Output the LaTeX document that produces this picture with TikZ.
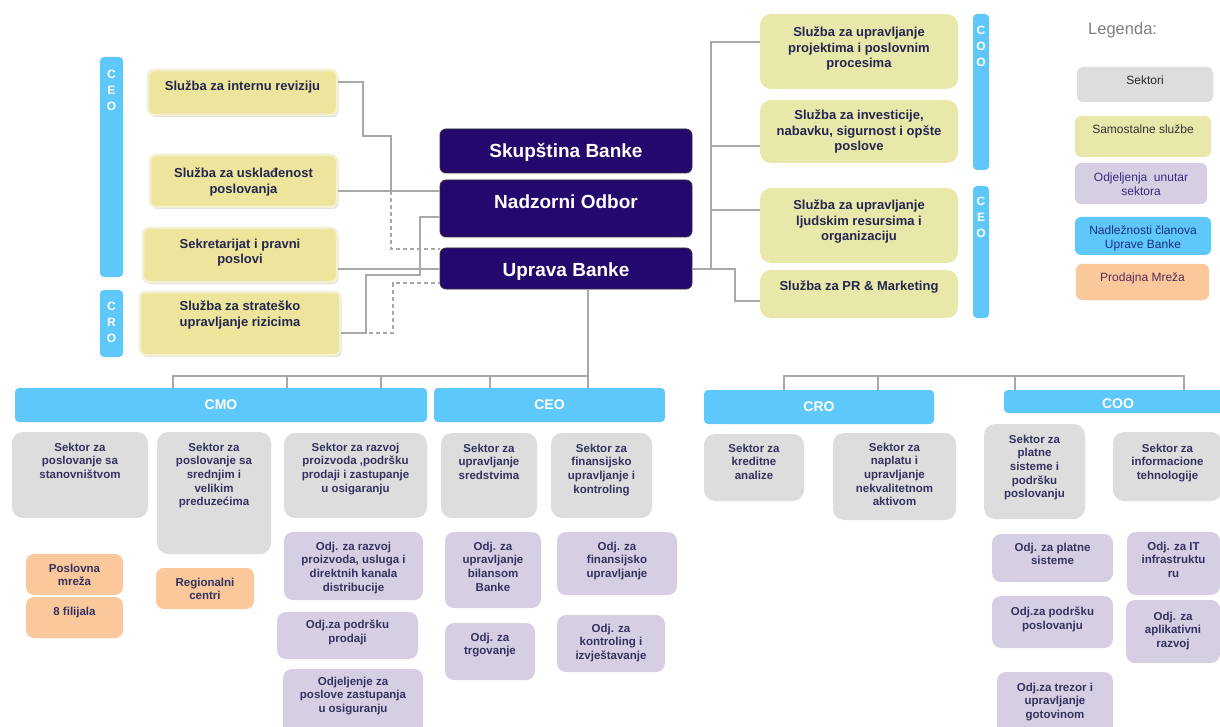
\documentclass[tikz,border=0pt]{standalone}
\usepackage{fontspec}
\setmainfont{Liberation Sans}
\usetikzlibrary{fit,shadows}
\definecolor{blu}{HTML}{5EC8FA}
\definecolor{yelL}{HTML}{EDE59C}
\definecolor{yelRim}{HTML}{F4F1D3}
\definecolor{yelR}{HTML}{E8E8AA}
\definecolor{gry}{HTML}{DDDDDD}
\definecolor{prp}{HTML}{D6CFE4}
\definecolor{org}{HTML}{FAC89B}
\definecolor{dkb}{HTML}{24086E}
\definecolor{lnc}{HTML}{A8A8A8}
\definecolor{tnavy}{HTML}{25254F}
\definecolor{tslate}{HTML}{34335F}
\definecolor{legg}{HTML}{808080}
\definecolor{tpurp}{HTML}{3A2A7A}
\definecolor{tblue}{HTML}{1E2E80}
\definecolor{tplum}{HTML}{5A2A5A}
\newcommand\obox[9]{%
  \node[fit={(#3,#4)(#5,#6)}, inner sep=0pt, #1] (#2) {};
  \node[#7, anchor=north] (#2t) at ([yshift=-#8pt]#2.north) {#9};}
\begin{document}
\begin{tikzpicture}[x=1pt,y=-1pt,
  conn/.style={draw=lnc, line width=1.1pt},
  dconn/.style={conn, dash pattern=on 4pt off 3pt},
  bar/.style={fill=blu, rounded corners=4pt},
  yl/.style={fill=yelL, draw=yelRim, line width=2.5pt, rounded corners=6pt,
     drop shadow={opacity=0.25, shadow xshift=1.5pt, shadow yshift=-2pt}},
  yr/.style={fill=yelR, rounded corners=11pt},
  dk/.style={fill=dkb, draw=black!80, line width=0.8pt, rounded corners=6pt},
  gr/.style={fill=gry, rounded corners=11pt},
  pu/.style={fill=prp, rounded corners=9pt},
  or/.style={fill=org, rounded corners=8pt},
  lgb/.style={rounded corners=6pt},
  t11/.style={font=\bfseries\fontsize{11.5}{13.6}\selectfont, text=tslate, align=center, inner sep=0pt},
  t13/.style={font=\bfseries\fontsize{13}{15.5}\selectfont, text=tnavy, align=center, inner sep=0pt},
  vbt/.style={font=\bfseries\fontsize{12}{16}\selectfont, text=white, align=center, inner sep=0pt},
  bart/.style={font=\bfseries\fontsize{14}{16}\selectfont, text=white, inner sep=0pt},
  dkt/.style={font=\bfseries\fontsize{19}{22}\selectfont, text=white, inner sep=0pt},
  lgt/.style={font=\fontsize{12}{14}\selectfont, align=center, inner sep=0pt},
]
\useasboundingbox (0,0) rectangle (1220,727);
\clip (0,0) rectangle (1220,727);
\fill[white] (0,0) rectangle (1220,727);

% ---- left side
\obox{bar}{lceo}{100}{57}{123}{277}{vbt}{13}{C\\E\\O}
\obox{bar}{lcro}{100}{290}{123}{357}{vbt}{12}{C\\R\\O}
\obox{yl}{ir}{148}{70}{337}{115}{t13}{12}{Služba za internu reviziju}
\obox{yl}{usk}{150}{155}{337}{207}{t13}{14}{Služba za usklađenost\\poslovanja}
\obox{yl}{sek}{143}{228}{337}{282}{t13}{12}{Sekretarijat i pravni\\poslovi}
\obox{yl}{rz}{140}{292}{340}{355}{t13}{10}{Služba za strateško\\upravljanje rizicima}

% ---- governing bodies
\obox{dk}{sk}{440}{129}{692}{173}{dkt}{15}{Skupština Banke}
\obox{dk}{nad}{440}{180}{692}{237}{dkt}{15}{Nadzorni Odbor}
\obox{dk}{upr}{440}{248}{692}{289}{dkt}{15}{Uprava Banke}

% ---- right side
\obox{yr}{p1}{760}{14}{958}{89}{t13}{13}{Služba za upravljanje\\projektima i poslovnim\\procesima}
\obox{yr}{p2}{760}{100}{958}{163}{t13}{10}{Služba za investicije,\\nabavku, sigurnost i opšte\\poslove}
\obox{yr}{p3}{760}{188}{958}{263}{t13}{12}{Služba za upravljanje\\ljudskim resursima i\\organizaciju}
\obox{yr}{pr}{760}{270}{958}{318}{t13}{11}{Služba za PR \& Marketing}
\obox{bar}{rcoo}{973}{14}{989}{170}{vbt}{12}{C\\O\\O}
\obox{bar}{rceo}{973}{186}{989}{318}{vbt}{11}{C\\E\\O}

% ---- legend
\node[font=\fontsize{16.5}{18}\selectfont, text=legg, anchor=west, inner sep=0pt] (leg) at (1088,30) {Legenda:};
\obox{lgb,fill=gry}{lg1}{1077}{67}{1213}{102}{lgt,text=black!85}{9}{Sektori}
\obox{lgb,fill=yelR}{lg2}{1075}{116}{1211}{157}{lgt,text=black!80}{9}{Samostalne službe}
\obox{lgb,fill=prp}{lg3}{1075}{163}{1207}{204}{lgt,text=tpurp}{10}{Odjeljenja\ \ unutar\\sektora}
\obox{lgb,fill=blu}{lg4}{1075}{217}{1211}{255}{lgt,text=tblue}{9}{Nadležnosti članova\\Uprave Banke}
\obox{lgb,fill=org}{lg5}{1076}{264}{1209}{300}{lgt,text=tplum}{9}{Prodajna Mreža}

% ---- bottom bars
\obox{bar}{cmob}{15}{388}{427}{422}{bart}{12}{CMO}
\obox{bar}{ceob}{434}{388}{665}{422}{bart}{12}{CEO}
\obox{bar}{crob}{704}{390}{934}{424}{bart}{12}{CRO}
\obox{bar}{coob}{1004}{390}{1232}{413}{bart}{9}{COO}

% ---- sectors
\obox{gr}{s1}{12}{432}{148}{518}{t11}{11}{Sektor za\\poslovanje sa\\stanovništvom}
\obox{gr}{s2}{157}{432}{271}{554}{t11}{11}{Sektor za\\poslovanje sa\\srednjim i\\velikim\\preduzećima}
\obox{gr}{s3}{284}{433}{427}{518}{t11}{10}{Sektor za razvoj\\proizvoda ,podršku\\prodaji i zastupanje\\u osigaranju}
\obox{gr}{s4}{441}{433}{537}{518}{t11}{11}{Sektor za\\upravljanje\\sredstvima}
\obox{gr}{s5}{551}{433}{652}{518}{t11}{11}{Sektor za\\finansijsko\\upravljanje i\\kontroling}
\obox{gr}{s6}{704}{434}{804}{501}{t11}{10}{Sektor za\\kreditne\\analize}
\obox{gr}{s7}{833}{433}{956}{520}{t11}{10}{Sektor za\\naplatu i\\upravljanje\\nekvalitetnom\\aktivom}
\obox{gr}{s8}{984}{424}{1085}{519}{t11}{11}{Sektor za\\platne\\sisteme i\\podršku\\poslovanju}
\obox{gr}{s9}{1113}{432}{1222}{501}{t11}{12}{Sektor za\\informacione\\tehnologije}

% ---- sales network
\obox{or}{o1}{26}{554}{123}{595}{t11}{10}{Poslovna\\mreža}
\obox{or}{o2}{26}{597}{123}{638}{t11}{10}{8 filijala}
\obox{or}{o3}{156}{568}{254}{609}{t11}{10}{Regionalni\\centri}

% ---- departments
\obox{pu}{d1}{284}{532}{423}{600}{t11}{10}{Odj. za razvoj\\proizvoda, usluga i\\direktnih kanala\\distribucije}
\obox{pu}{d2}{277}{612}{418}{659}{t11}{8}{Odj.za podršku\\prodaji}
\obox{pu}{d3}{283}{669}{423}{735}{t11}{8}{Odjeljenje za\\poslove zastupanja\\u osiguranju}
\obox{pu}{d4}{445}{532}{541}{608}{t11}{10}{Odj. za\\upravljanje\\bilansom\\Banke}
\obox{pu}{d5}{445}{623}{535}{680}{t11}{10}{Odj. za\\trgovanje}
\obox{pu}{d6}{557}{532}{677}{595}{t11}{10}{Odj. za\\finansijsko\\upravljanje}
\obox{pu}{d7}{557}{615}{665}{672}{t11}{9}{Odj. za\\kontroling i\\izvještavanje}
\obox{pu}{d8}{992}{534}{1113}{582}{t11}{9}{Odj. za platne\\sisteme}
\obox{pu}{d9}{1127}{532}{1220}{595}{t11}{10}{Odj. za IT\\infrastruktu\\ru}
\obox{pu}{d10}{992}{596}{1113}{648}{t11}{11}{Odj.za podršku\\poslovanju}
\obox{pu}{d11}{1126}{600}{1220}{663}{t11}{12}{Odj. za\\aplikativni\\razvoj}
\obox{pu}{d12}{997}{672}{1113}{735}{t11}{11}{Odj.za trezor i\\upravljanje\\gotovinom}

% ---- connectors, left
\draw[conn] (ir.east |- 0,82) -| (363,136) -| (391,191);
\draw[conn] (usk.east |- 0,191) -- (nad.west |- 0,191);
\draw[dconn] (391,191) |- (upr.west |- 0,249);
\draw[conn] (sek.east |- 0,269) -- (upr.west |- 0,269);
\draw[conn] (rz.east |- 0,333) -| (366,275) -| (420,217) -- (nad.west |- 0,217);
\draw[dconn] (rz.east |- 0,333) -| (393,283) -- (upr.west |- 0,283);

% ---- connectors, right
\draw[conn] (upr.east |- 0,269) -| (735,301) -- (pr.west |- 0,301);
\draw[conn] (p1.west |- 0,42) -| (711,269);
\draw[conn] (p2.west |- 0,146) -- (711,146);
\draw[conn] (p3.west |- 0,210) -- (711,210);

% ---- connectors, bottom
\draw[conn] (upr.south -| 588,0) -- (ceob.north -| 588,0);
\draw[conn] (cmob.north -| 173,0) |- (588,376);
\draw[conn] (cmob.north -| 287,0) -- (287,376);
\draw[conn] (cmob.north -| 381,0) -- (381,376);
\draw[conn] (ceob.north -| 490,0) -- (490,376);
\draw[conn] (crob.north -| 784,0) -- (784,376) -- (1184,376) -- (coob.north -| 1184,0);
\draw[conn] (crob.north -| 878,0) -- (878,376);
\draw[conn] (coob.north -| 1015,0) -- (1015,376);
\end{tikzpicture}
\end{document}
